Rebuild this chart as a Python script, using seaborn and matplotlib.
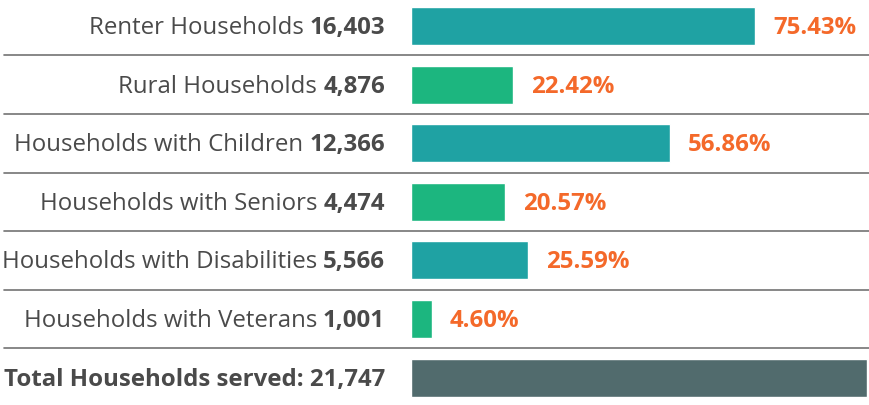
import pandas as pd
import seaborn as sns
import matplotlib.pyplot as plt

sns.set_theme(style="white")
plt.rcParams['font.family'] = ['Open Sans', 'DejaVu Sans']

# Households served, by group
groups = ["Renter Households", "Rural Households", "Households with Children",
          "Households with Seniors", "Households with Disabilities",
          "Households with Veterans", "Total Households served:"]
counts = ["16,403", "4,876", "12,366", "4,474", "5,566", "1,001", "21,747"]
percents = [75.43, 22.42, 56.86, 20.57, 25.59, 4.60, 100.0]
bar_colors = ["#1fa2a3", "#1cb67f", "#1fa2a3", "#1cb67f", "#1fa2a3", "#1cb67f", "#516b6d"]

TEXT = "#4a4a4a"
ORANGE = "#f4692a"
W, H = 869, 405

df = pd.DataFrame({"group": groups, "pct": percents})

fig = plt.figure(figsize=(W / 100, H / 100), dpi=100)
ax = fig.add_axes([0, 0, 1, 1])

sns.barplot(data=df, x="pct", y="group", hue="group", palette=bar_colors,
            orient="h", width=0.65, legend=False, saturation=1, ax=ax)

# bars start at pixel 411, 100% reaches pixel 867
scale = (867 - 411) / 100
ax.set_xlim(-411 / scale, (W - 411) / scale)
pitch = 58.6
ax.set_ylim((H - 26) / pitch, -26 / pitch)
ax.axis("off")

fs = 17.3
dy = -2
n = len(groups)
for i in range(n - 1):
    num = ax.annotate(counts[i], xy=(0, i), xytext=(-26, dy), textcoords="offset pixels",
                      ha="right", va="center", fontsize=fs, fontweight="bold", color=TEXT)
    ax.annotate(groups[i], xy=(0, 0), xycoords=num, xytext=(-6, 0),
                textcoords="offset pixels", ha="right", va="bottom",
                fontsize=fs, color=TEXT)
    ax.annotate(f"{percents[i]:.2f}%", xy=(percents[i], i), xytext=(18, dy),
                textcoords="offset pixels", ha="left", va="center",
                fontsize=fs, fontweight="bold", color=ORANGE)

ax.annotate(f"{groups[-1]} {counts[-1]}", xy=(4 / W, n - 1), xycoords=ax.get_yaxis_transform(),
            xytext=(0, dy), textcoords="offset pixels",
            ha="left", va="center", fontsize=fs, fontweight="bold", color=TEXT)

# row separators
for i in range(n - 1):
    ax.axhline(i + 0.5, xmin=4 / W, xmax=1, color="#737373", lw=1.2)

fig.savefig("out.png", dpi=100)
